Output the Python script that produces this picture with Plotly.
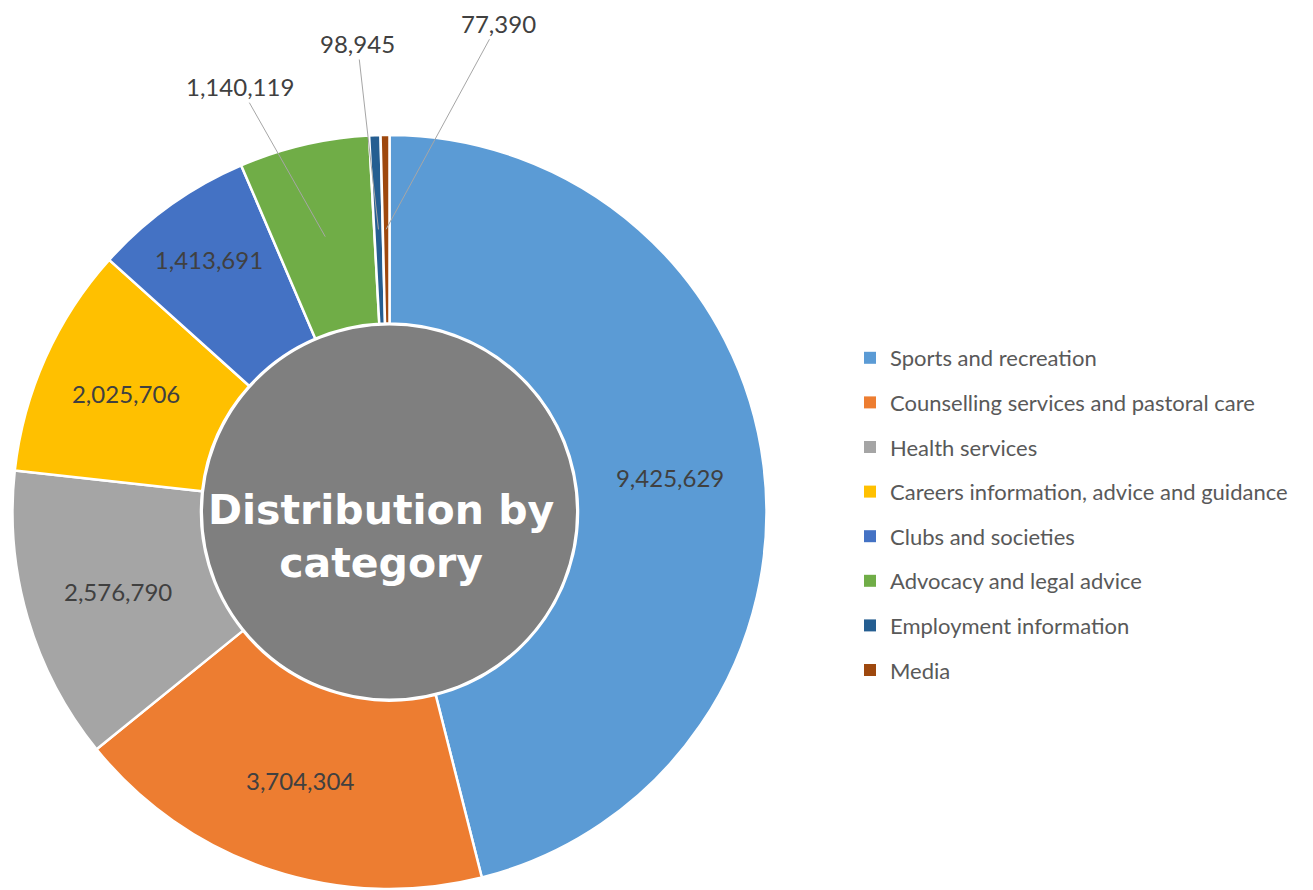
import math
import plotly.graph_objects as go

# data
categories = ["Sports and recreation",
              "Counselling services and pastoral care",
              "Health services",
              "Careers information, advice and guidance",
              "Clubs and societies",
              "Advocacy and legal advice",
              "Employment information",
              "Media"]
values = [9425629, 3704304, 2576790, 2025706, 1413691, 1140119, 98945, 77390]
colors = ["#5B9BD5", "#ED7D31", "#A5A5A5", "#FFC000",
          "#4472C4", "#70AD47", "#255E91", "#9E480E"]
# slices whose value sits outside the ring, with label offset (px)
outside = {5: (-85, -150), 6: (-21, -186), 7: (112, -206)}

# page body has an 8px margin, so the figure is 8px smaller
W, H = 1305, 882
cx, cy, R = 381.5, 504, 377     # pie centre / radius in px
hole = 0.5

fig = go.Figure()

fig.add_trace(go.Pie(
    labels=categories,
    values=values,
    sort=False,
    direction="clockwise",
    rotation=0,
    hole=hole,
    marker=dict(colors=colors, line=dict(color="white", width=2.5)),
    texttemplate="%{value:,}",
    textposition=["none" if i in outside else "inside" for i in range(len(values))],
    insidetextorientation="horizontal",
    textfont=dict(family="Lato", size=24, color="#404040"),
    domain=dict(x=[(cx - R) / W, (cx + R) / W],
                y=[(H - cy - R) / H, (H - cy + R) / H]),
    showlegend=False,
    hoverinfo="label+value+percent",
))

# leader-line labels for the thin slices, anchored at the slice mid-angle
total = sum(values)
cum = 0
r_mid = R * (1 + hole) / 2
for i, v in enumerate(values):
    mid = (cum + v / 2) / total * 2 * math.pi
    cum += v
    if i not in outside:
        continue
    px = cx + r_mid * math.sin(mid)
    py = cy - r_mid * math.cos(mid)
    ax, ay = outside[i]
    fig.add_annotation(x=px / W, y=1 - py / H, xref="paper", yref="paper",
                       text=f"{v:,}", showarrow=True, arrowhead=0,
                       arrowwidth=1, arrowcolor="#A6A6A6", ax=ax, ay=ay,
                       font=dict(family="Lato", size=24, color="#404040"))

# legend entries (one group per category so the gap can be set)
for name, col in zip(categories, colors):
    fig.add_trace(go.Scatter(
        x=[None], y=[None], mode="markers", name=name,
        legendgroup=name,
        marker=dict(symbol="square", size=12, color=col),
        showlegend=True,
    ))

# grey centre disc
r_in = R * hole - 1
fig.add_shape(type="circle", xref="paper", yref="paper",
              x0=(cx - r_in) / W, x1=(cx + r_in) / W,
              y0=(H - cy - r_in) / H, y1=(H - cy + r_in) / H,
              fillcolor="#7F7F7F", line=dict(color="white", width=2),
              layer="below")

fig.add_annotation(text="Distribution by<br>category",
                   x=(cx - 9) / W, y=1 - (cy + 24) / H,
                   xref="paper", yref="paper", showarrow=False,
                   xanchor="center", yanchor="middle",
                   font=dict(family="DejaVu Sans", size=41, color="white",
                             weight="bold"))

fig.update_layout(
    width=W, height=H,
    margin=dict(l=0, r=0, t=0, b=0),
    paper_bgcolor="white",
    plot_bgcolor="white",
    xaxis=dict(visible=False),
    yaxis=dict(visible=False),
    legend=dict(x=842 / W, y=1 - 329 / H, xanchor="left", yanchor="top",
                font=dict(family="Lato", size=22, color="#595959"),
                tracegroupgap=13, itemclick=False),
)

fig.write_html("out.html")
